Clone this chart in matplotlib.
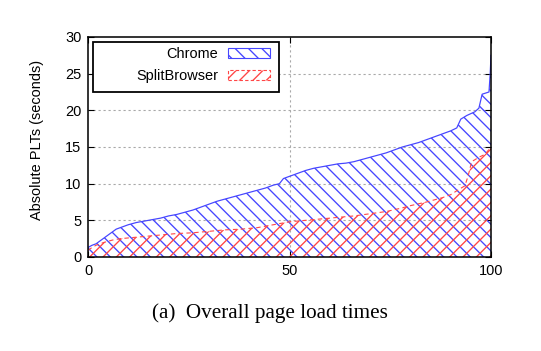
import matplotlib
matplotlib.use("Agg")
import matplotlib.pyplot as plt
from matplotlib.patches import Patch, Rectangle

# ---- data ----
chrome_x = [0, 1, 2, 3, 4, 5, 6, 7, 8, 10, 12, 14, 16, 18, 20, 22, 24, 26, 28, 30,
            32, 34, 36, 38, 40, 42, 44, 46, 47.5, 48.5, 50, 52, 54, 56, 58, 60, 62,
            64, 66, 68, 70, 72, 74, 76, 78, 80, 82, 84, 86, 88, 90, 91.5, 92.5, 94,
            96, 97, 97.8, 99.5, 99.8, 100]
chrome_y = [1.3, 1.6, 1.8, 2.2, 2.6, 3.0, 3.4, 3.8, 4.0, 4.4, 4.7, 4.9, 5.1, 5.3, 5.6,
            5.8, 6.1, 6.4, 6.8, 7.2, 7.6, 7.9, 8.2, 8.5, 8.8, 9.1, 9.4, 9.8, 10.0, 10.7,
            11.0, 11.4, 11.8, 12.1, 12.3, 12.5, 12.7, 12.8, 13.0, 13.3, 13.6, 13.9,
            14.2, 14.6, 15.0, 15.3, 15.6, 16.0, 16.4, 16.8, 17.2, 17.6, 18.8, 19.3,
            19.8, 20.3, 22.2, 22.5, 25.0, 27.5]

split_x = [0, 1, 2, 4, 6, 8, 10, 14, 18, 22, 26, 30, 34, 38, 42, 46, 48, 50, 54, 58,
           62, 66, 70, 74, 78, 80, 84, 88, 90, 92, 93.5, 94.3, 95.2, 97, 98.5, 100]
split_y = [0.9, 1.3, 1.6, 2.0, 2.3, 2.5, 2.6, 2.8, 3.0, 3.2, 3.3, 3.5, 3.7, 3.8, 4.0,
           4.4, 4.6, 4.8, 5.0, 5.2, 5.4, 5.6, 5.9, 6.2, 6.7, 7.0, 7.5, 8.1, 8.5, 9.2,
           9.7, 11.0, 13.0, 13.6, 14.0, 15.0]

series_labels = ["Chrome", "SplitBrowser"]
x_ticks = [0, 50, 100]
y_ticks = [0, 5, 10, 15, 20, 25, 30]
y_label = "Absolute PLTs (seconds)"
caption = "(a)  Overall page load times"

BLUE = "#4646ff"
RED = "#ff4646"

DPI = 80
plt.rcParams["font.family"] = ["Liberation Sans", "DejaVu Sans"]
plt.rcParams["hatch.linewidth"] = 1.2

fig = plt.figure(figsize=(541 / DPI, 351 / DPI), dpi=DPI)
ax = fig.add_axes([88 / 541, 1 - 257 / 351, (491 - 88) / 541, (257 - 37) / 351])

# fills
ax.fill_between(chrome_x, 0, chrome_y, facecolor="none", edgecolor=BLUE,
                hatch="\\\\", linewidth=0, zorder=2)
ax.fill_between(split_x, 0, split_y, facecolor="none", edgecolor=RED,
                hatch="//", linewidth=0, zorder=2.5)
ax.plot(chrome_x, chrome_y, color=BLUE, lw=1.1, zorder=3)
ax.plot(split_x, split_y, color=RED, lw=1.0, ls=(0, (4, 3)), zorder=3)

ax.set_xlim(0, 100)
ax.set_ylim(0, 30)
ax.set_xticks(x_ticks)
ax.set_yticks(y_ticks)
ax.tick_params(direction="in", length=5, width=1.0, labelsize=13, top=True,
               right=True, colors="black", pad=6)
for s in ax.spines.values():
    s.set_linewidth(1.4)
    s.set_zorder(4)

# grid (interior only)
for yv in y_ticks[1:-1]:
    ax.axhline(yv, color="#a8a8a8", lw=1.0, ls=(0, (2, 2.5)), zorder=1)
ax.axvline(50, color="#a8a8a8", lw=1.0, ls=(0, (2, 2.5)), zorder=1)

ax.set_ylabel(y_label, fontsize=13)
ax.yaxis.set_label_coords(-0.11, 0.53)

# legend box
ax.add_patch(Rectangle((0.0124, 0.75), 0.4616, 0.227, transform=ax.transAxes,
                       facecolor="white", edgecolor="black", lw=1.6, zorder=5))
handles = [Patch(facecolor="none", edgecolor=BLUE, hatch="\\\\", lw=1.0),
           Patch(facecolor="none", edgecolor=RED, hatch="//", lw=1.0, ls=(0, (3, 2)))]
leg = ax.legend(handles, series_labels, loc="upper right",
                bbox_to_anchor=((273 - 88) / 403, (257 - 44) / 220),
                frameon=False, markerfirst=False, fontsize=13, handlelength=2.9,
                handletextpad=0.7, labelspacing=0.55, borderaxespad=0,
                borderpad=0.2)
leg.set_zorder(6)

fig.text(270 / 541, 1 - 313 / 351, caption, ha="center", va="center",
         fontsize=19, family="Liberation Serif")

fig.savefig("out.png", dpi=DPI)
